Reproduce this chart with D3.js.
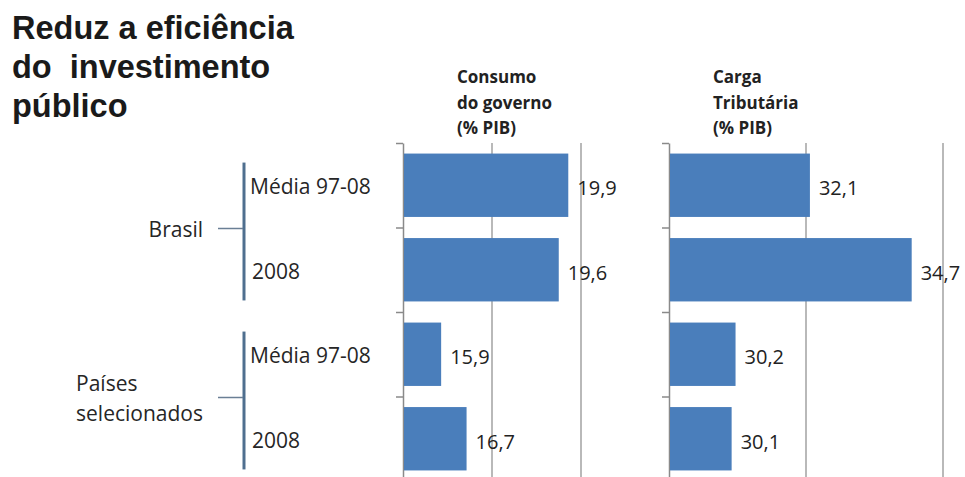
<!DOCTYPE html>
<html>
<head>
<meta charset="utf-8">
<script src="https://cdn.jsdelivr.net/npm/d3@7"></script>
<style>
  html, body { margin: 0; padding: 0; background: #ffffff; }
  svg { display: block; }
  text { fill: #222; }
</style>
</head>
<body>
<svg id="chart" width="965" height="477"></svg>
<script>
// Row labels (subcategory) and the group each row belongs to
const rows = ["Brasil|Média 97-08", "Brasil|2008", "Países|Média 97-08", "Países|2008"];
const rowLabels = ["Média 97-08", "2008", "Média 97-08", "2008"];
const groups = [
  { name: ["Brasil"], rows: ["Brasil|Média 97-08", "Brasil|2008"] },
  { name: ["Países", "selecionados"], rows: ["Países|Média 97-08", "Países|2008"] }
];

// Series values (% do PIB)
const consumoGoverno = [19.9, 19.6, 15.9, 16.7];
const cargaTributaria = [32.1, 34.7, 30.2, 30.1];

// Panel headings
const headingConsumo = ["Consumo", "do governo", "(% PIB)"];
const headingCarga = ["Carga", "Tributária", "(% PIB)"];

// Axis domains and gridline values for each panel
const domainConsumo = [14.7, 20.3];
const gridConsumo = [17.5, 20.3];
const domainCarga = [28.5, 35.5];
const gridCarga = [32, 35.5];

const titleLines = ["Reduz a eficiência", "do  investimento", "público"];

const svg = d3.select("#chart");
const fmt = v => d3.format(".1f")(v).replace(".", ",");

const BAR = "#4a7ebb";
const AXIS = "#8a8a8a";
const labelFont = "'Open Sans', 'Liberation Sans', sans-serif";

// Title
const title = svg.append("g");
titleLines.forEach((t, i) => {
  title.append("text")
    .attr("x", 12)
    .attr("y", 39 + i * 39)
    .attr("font-family", "'Liberation Sans', Arial, sans-serif")
    .attr("font-weight", "bold")
    .attr("font-size", 32.5)
    .style("white-space", "pre")
    .style("fill", "#1a1a1a")
    .text(t);
});

// Shared vertical band scale
const y = d3.scaleBand().domain(rows).range([143, 481]).paddingInner(0.25).paddingOuter(0.125);
const yTicks = d3.scaleLinear().domain([0, rows.length]).range([143, 481]);

function panel(values, domain, grid, range, heading, headingX) {
  const x = d3.scaleLinear().domain(domain).range(range);
  const g = svg.append("g");

  // vertical gridlines
  g.selectAll("line.grid").data(grid).join("line")
    .attr("class", "grid")
    .attr("x1", d => x(d)).attr("x2", d => x(d))
    .attr("y1", 143).attr("y2", 481)
    .attr("stroke", AXIS).attr("stroke-width", 1.2);

  // category axis with boundary ticks
  const ax = g.append("g")
    .attr("transform", `translate(${x(domain[0])},0)`)
    .call(d3.axisLeft(yTicks).tickValues(d3.range(rows.length + 1)).tickFormat("").tickSize(7).tickSizeOuter(0));
  ax.select(".domain").attr("stroke", AXIS).attr("stroke-width", 1.5);
  ax.selectAll(".tick line").attr("stroke", AXIS).attr("stroke-width", 1.5);

  // bars
  g.selectAll("rect").data(values).join("rect")
    .attr("x", x(domain[0]) + 1)
    .attr("y", (d, i) => y(rows[i]))
    .attr("width", d => x(d) - x(domain[0]) - 1)
    .attr("height", y.bandwidth())
    .attr("fill", BAR);

  // value labels
  g.selectAll("text.val").data(values).join("text")
    .attr("class", "val")
    .attr("x", d => x(d) + 9)
    .attr("y", (d, i) => y(rows[i]) + y.bandwidth() / 2 + 10)
    .attr("font-family", labelFont)
    .attr("font-size", 20)
    .text(d => fmt(d));

  // heading
  heading.forEach((t, i) => {
    g.append("text")
      .attr("x", headingX)
      .attr("y", 83 + i * 25.5)
      .attr("font-family", labelFont)
      .attr("font-weight", "bold")
      .attr("font-size", 17)
      .text(t);
  });
}

panel(consumoGoverno, domainConsumo, gridConsumo, [403, 581], headingConsumo, 457);
panel(cargaTributaria, domainCarga, gridCarga, [669, 943], headingCarga, 713);

// Row labels
svg.selectAll("text.row").data(rowLabels).join("text")
  .attr("class", "row")
  .attr("x", (d, i) => (d === "2008" ? 252 : 250))
  .attr("y", (d, i) => y(rows[i]) + y.bandwidth() / 2 + 9)
  .attr("font-family", labelFont)
  .attr("font-size", 21)
  .style("fill", "#262626")
  .text(d => d);

// Group brackets and labels
const BRACKET = "#4f6f8f";
groups.forEach(gr => {
  const top = y(gr.rows[0]) + 9;
  const bottom = y(gr.rows[gr.rows.length - 1]) + y.bandwidth() - 1;
  const mid = (y(gr.rows[0]) + y(gr.rows[gr.rows.length - 1]) + y.bandwidth()) / 2 + 1;
  svg.append("line")
    .attr("x1", 244).attr("x2", 244).attr("y1", top).attr("y2", bottom)
    .attr("stroke", BRACKET).attr("stroke-width", 3);
  svg.append("line")
    .attr("x1", 218).attr("x2", 243).attr("y1", mid).attr("y2", mid)
    .attr("stroke", "#6a7f95").attr("stroke-width", 1.5);

  const t = svg.append("text")
    .attr("font-family", labelFont)
    .attr("font-size", 21)
    .style("fill", "#262626");
  const n = gr.name.length;
  gr.name.forEach((s, i) => {
    t.append("tspan").attr("y", mid + 8 + (i - (n - 1) / 2) * 30).text(s);
  });
  // right-align the block against the connector, lines left-aligned within it
  const w = d3.max(t.selectAll("tspan").nodes(), nd => nd.getComputedTextLength());
  t.selectAll("tspan").attr("x", 203 - w);
});
</script>
</body>
</html>
